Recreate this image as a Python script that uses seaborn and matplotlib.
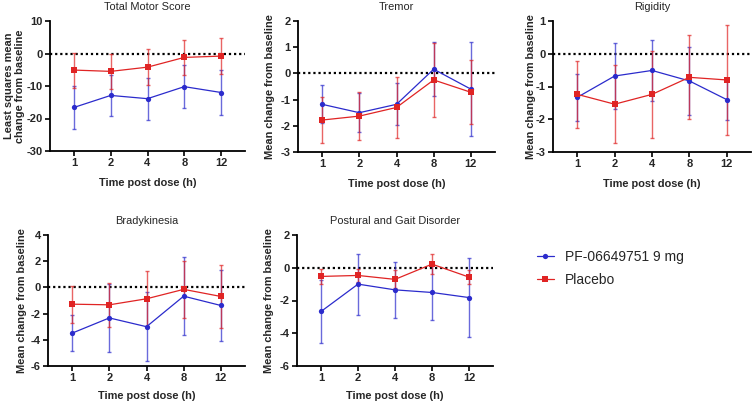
import numpy as np
import pandas as pd
import matplotlib
matplotlib.use("Agg")
import matplotlib.pyplot as plt
import seaborn as sns

# -------------------------------
# DATA
# -------------------------------
times = ["1", "2", "4", "8", "12"]
groups = ["PF-06649751 9 mg", "Placebo"]

panel_titles = ["Total Motor Score", "Tremor", "Rigidity", "Bradykinesia", "Postural and Gait Disorder"]

# means and half-widths of the error bars
tms_drug = [-16.6, -12.9, -13.9, -10.2, -12.0]
tms_drug_err = [6.6, 6.4, 6.5, 6.6, 7.0]
tms_pbo = [-5.1, -5.5, -4.2, -1.2, -0.8]
tms_pbo_err = [5.4, 5.3, 5.5, 5.3, 5.5]

tremor_drug = [-1.18, -1.50, -1.18, 0.16, -0.60]
tremor_drug_err = [0.72, 0.75, 0.80, 1.02, 1.80]
tremor_pbo = [-1.78, -1.63, -1.30, -0.25, -0.72]
tremor_pbo_err = [0.89, 0.93, 1.17, 1.40, 1.23]

rigid_drug = [-1.33, -0.68, -0.51, -0.83, -1.40]
rigid_drug_err = [0.72, 1.00, 0.92, 1.03, 0.62]
rigid_pbo = [-1.24, -1.54, -1.24, -0.72, -0.80]
rigid_pbo_err = [1.02, 1.20, 1.33, 1.28, 1.69]

brady_drug = [-3.49, -2.33, -3.00, -0.67, -1.38]
brady_drug_err = [1.35, 2.62, 2.63, 2.97, 2.69]
brady_pbo = [-1.28, -1.33, -0.87, -0.15, -0.69]
brady_pbo_err = [1.42, 1.68, 2.10, 2.15, 2.38]

pigd_drug = [-2.67, -1.00, -1.35, -1.51, -1.82]
pigd_drug_err = [1.94, 1.87, 1.73, 1.67, 2.41]
pigd_pbo = [-0.53, -0.47, -0.71, 0.22, -0.57]
pigd_pbo_err = [0.47, 0.40, 0.55, 0.63, 0.42]

ylabels = ["Least squares mean\nchange from baseline"] + ["Mean change from baseline"] * 4
yticks = [np.arange(-30, 11, 10), np.arange(-3, 3, 1), np.arange(-3, 2, 1),
          np.arange(-6, 5, 2), np.arange(-6, 3, 2)]

panels = [
    (tms_drug, tms_drug_err, tms_pbo, tms_pbo_err),
    (tremor_drug, tremor_drug_err, tremor_pbo, tremor_pbo_err),
    (rigid_drug, rigid_drug_err, rigid_pbo, rigid_pbo_err),
    (brady_drug, brady_drug_err, brady_pbo, brady_pbo_err),
    (pigd_drug, pigd_drug_err, pigd_pbo, pigd_pbo_err),
]

colors = {"PF-06649751 9 mg": "#2b2bcc", "Placebo": "#e02424"}
markers = {"PF-06649751 9 mg": "o", "Placebo": "s"}

# -------------------------------
# STYLE
# -------------------------------
sns.set_style("ticks")
plt.rcParams["font.family"] = ["Liberation Sans", "DejaVu Sans"]
plt.rcParams["axes.unicode_minus"] = False

W, H = 752, 404
fig = plt.figure(figsize=(W / 100, H / 100), dpi=100)

# axes boxes in pixels: left, right, top, bottom
boxes = [
    (50, 245, 21, 151),
    (298, 495, 21, 152),
    (553, 751, 21, 152),
    (48, 245, 235, 366),
    (297, 493, 235, 366),
]
# right edge of the y label, pixels
ylab_x = [25, 275, 536, 27, 274]
# top of the x label, pixels below the axis
xlab_dy = [27, 27, 27, 25, 25]

handles = None
for i, (box, data) in enumerate(zip(boxes, panels)):
    l, r, t, b = box
    ax = fig.add_axes([l / W, 1 - b / H, (r - l) / W, (b - t) / H])
    drug, drug_err, pbo, pbo_err = data

    df = pd.DataFrame({
        "pos": list(range(len(times))) * 2,
        "value": drug + pbo,
        "err": drug_err + pbo_err,
        "group": [groups[0]] * len(times) + [groups[1]] * len(times),
    })

    ax.axhline(0, color="black", linestyle=(0, (1, 1.3)), linewidth=1.6, zorder=1)

    for g in groups:
        sub = df[df["group"] == g]
        ax.errorbar(sub["pos"], sub["value"], yerr=sub["err"], fmt="none",
                    ecolor=colors[g], elinewidth=1.0, capsize=1.5, capthick=1.0,
                    alpha=0.7, zorder=2)

    sns.lineplot(data=df, x="pos", y="value", hue="group", style="group",
                 palette=colors, markers=markers, dashes=False,
                 markersize=3.8, markeredgewidth=0, linewidth=0.9,
                 ax=ax, legend=(i == 0), zorder=3)

    if i == 0:
        handles, labels = ax.get_legend_handles_labels()
        ax.get_legend().remove()

    ax.set_xlim(-0.65, 4.65)
    ax.set_ylim(yticks[i][0], yticks[i][-1])
    ax.set_yticks(yticks[i])
    ax.set_xticks(range(len(times)))
    ax.set_xticklabels(times)
    ax.set_title(panel_titles[i], fontsize=7.9, pad=8)
    ax.set_xlabel("Time post dose (h)", fontsize=7.9, fontweight="bold")
    ax.set_ylabel(ylabels[i], fontsize=7.9, fontweight="bold", linespacing=1.1)
    ax.yaxis.set_label_coords((ylab_x[i] - l) / (r - l), 0.5)
    ax.xaxis.set_label_coords(0.5, -xlab_dy[i] / (b - t))
    ax.tick_params(axis="both", labelsize=8, width=1.2, length=3.8, pad=1.5, color="black")
    for lab in ax.get_xticklabels() + ax.get_yticklabels():
        lab.set_fontweight("bold")
    sns.despine(ax=ax)
    for s in ["left", "bottom"]:
        ax.spines[s].set_linewidth(1.3)
        ax.spines[s].set_color("black")

fig.legend(handles, labels, loc="upper left", bbox_to_anchor=(524 / W, 1 - 237 / H),
           frameon=False, fontsize=10, handlelength=1.25, handletextpad=0.8,
           labelspacing=0.65)

fig.savefig("out.png", dpi=100)
